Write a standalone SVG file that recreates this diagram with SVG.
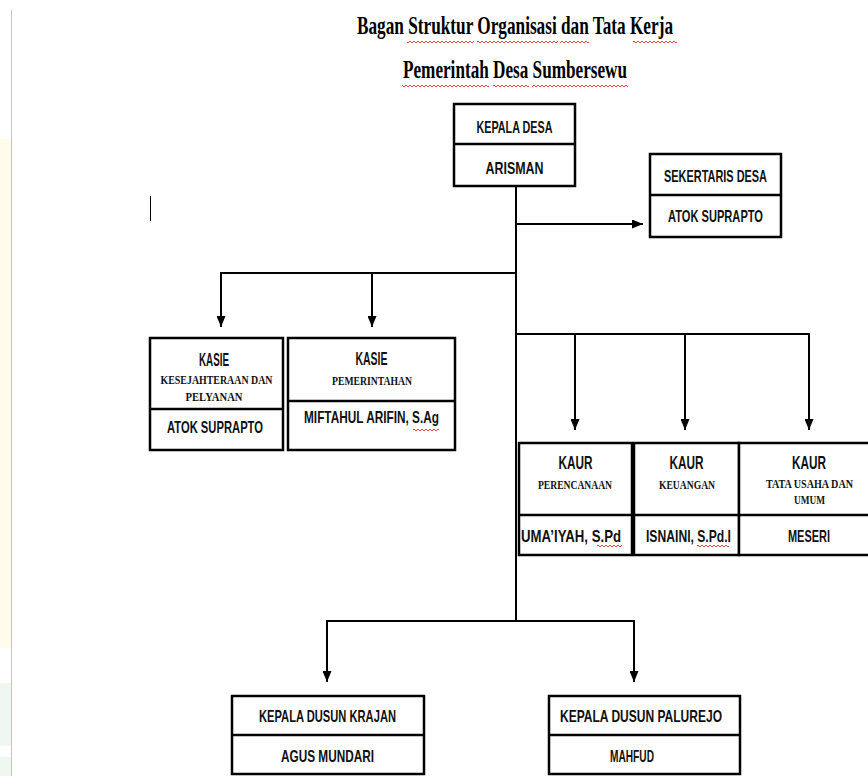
<svg xmlns="http://www.w3.org/2000/svg" width="868" height="776" viewBox="0 0 868 776">
<style>
.box{fill:#fff;stroke:#000;stroke-width:2.5}
.div{stroke:#000;stroke-width:2.5}
.con{fill:none;stroke:#000;stroke-width:2}
.t{font-family:"Liberation Sans Narrow","Liberation Sans",Arial,sans-serif;font-weight:bold;font-size:16.5px;fill:#111;text-anchor:middle}
.h{font-size:17.5px}
.s{font-family:"Liberation Serif","Times New Roman",serif;font-weight:bold;font-size:12px;fill:#111;text-anchor:middle}
.title{font-family:"Liberation Serif","Times New Roman",serif;font-weight:bold;font-size:25px;fill:#000;text-anchor:middle}
</style>
<defs>
<marker id="arr" markerUnits="userSpaceOnUse" markerWidth="11" markerHeight="9" refX="11" refY="4.5" orient="auto">
<path d="M0,0 L11,4.5 L0,9 z" fill="#000"/>
</marker>
<pattern id="sq" patternUnits="userSpaceOnUse" width="4" height="4">
<path d="M0,3 L2,1 L4,3" fill="none" stroke="#e03030" stroke-width="0.9"/>
</pattern>
</defs>
<rect width="868" height="776" fill="#fff"/>
<g id="sidebar">
<rect x="0" y="139" width="11" height="509" fill="#fffcec"/>
<rect x="0" y="683" width="11" height="63" fill="#f0f7f0"/>
<rect x="0" y="757" width="11" height="19" fill="#f0f7f0"/>
<line x1="11.5" y1="10" x2="11.5" y2="776" stroke="#c4c4c4" stroke-width="1"/>
<line x1="150.5" y1="196" x2="150.5" y2="221" stroke="#000" stroke-width="1"/>
</g>
<g id="title">
<text class="title" x="515" y="34" textLength="316" lengthAdjust="spacingAndGlyphs">Bagan Struktur Organisasi dan Tata Kerja</text>
<text class="title" x="515" y="78" textLength="224" lengthAdjust="spacingAndGlyphs">Pemerintah Desa Sumbersewu</text>
<rect x="407" y="39" width="67" height="4" fill="url(#sq)"/>
<rect x="477" y="39" width="81" height="4" fill="url(#sq)"/>
<rect x="560" y="39" width="29" height="4" fill="url(#sq)"/>
<rect x="633" y="39" width="44" height="4" fill="url(#sq)"/>
<rect x="402" y="83" width="87" height="4" fill="url(#sq)"/>
<rect x="493" y="83" width="36" height="4" fill="url(#sq)"/>
<rect x="532" y="83" width="96" height="4" fill="url(#sq)"/>
</g>
<g id="connectors">
<path class="con" d="M516,186 V621"/>
<path class="con" d="M516,224 H643" marker-end="url(#arr)"/>
<path class="con" d="M516,273 H221"/>
<path class="con" d="M221,272 V327" marker-end="url(#arr)"/>
<path class="con" d="M372,273 V327" marker-end="url(#arr)"/>
<path class="con" d="M516,334 H809"/>
<path class="con" d="M575,334 V430" marker-end="url(#arr)"/>
<path class="con" d="M685,334 V430" marker-end="url(#arr)"/>
<path class="con" d="M809,333 V430" marker-end="url(#arr)"/>
<path class="con" d="M327,621 H634"/>
<path class="con" d="M327,620 V682" marker-end="url(#arr)"/>
<path class="con" d="M634,620 V682" marker-end="url(#arr)"/>
</g>
<g id="kepala-desa">
<rect class="box" x="454" y="104" width="121" height="82"/>
<line class="div" x1="454" y1="144" x2="575" y2="144"/>
<text class="t" x="514.5" y="133" textLength="76" lengthAdjust="spacingAndGlyphs">KEPALA DESA</text>
<text class="t" x="514.5" y="174" textLength="58" lengthAdjust="spacingAndGlyphs">ARISMAN</text>
</g>
<g id="sekretaris-desa">
<rect class="box" x="650" y="154" width="131" height="83"/>
<line class="div" x1="650" y1="195" x2="781" y2="195"/>
<text class="t" x="715.5" y="182" textLength="103" lengthAdjust="spacingAndGlyphs">SEKERTARIS DESA</text>
<text class="t" x="715.5" y="222" textLength="95" lengthAdjust="spacingAndGlyphs">ATOK SUPRAPTO</text>
</g>
<g id="kasie-kesejahteraan">
<rect class="box" x="150" y="338" width="133" height="112"/>
<line class="div" x1="150" y1="409" x2="283" y2="409"/>
<text class="t h" x="214" y="366" textLength="30" lengthAdjust="spacingAndGlyphs">KASIE</text>
<text class="s" x="216.5" y="384" textLength="112" lengthAdjust="spacingAndGlyphs">KESEJAHTERAAN DAN</text>
<text class="s" x="214" y="401" textLength="57" lengthAdjust="spacingAndGlyphs">PELYANAN</text>
<text class="t" x="215" y="433" textLength="96" lengthAdjust="spacingAndGlyphs">ATOK SUPRAPTO</text>
</g>
<g id="kasie-pemerintahan">
<rect class="box" x="288" y="338" width="167" height="112"/>
<line class="div" x1="288" y1="401" x2="455" y2="401"/>
<text class="t h" x="371.5" y="365" textLength="32" lengthAdjust="spacingAndGlyphs">KASIE</text>
<text class="s" x="372" y="385" textLength="80" lengthAdjust="spacingAndGlyphs">PEMERINTAHAN</text>
<text class="t" x="371.5" y="423" textLength="135" lengthAdjust="spacingAndGlyphs">MIFTAHUL ARIFIN, S.Ag</text>
<rect x="413" y="428" width="26" height="4" fill="url(#sq)"/>
</g>
<g id="kaur-perencanaan">
<rect class="box" x="519" y="443" width="113" height="112"/>
<line class="div" x1="519" y1="515" x2="632" y2="515"/>
<text class="t h" x="575.5" y="469" textLength="34" lengthAdjust="spacingAndGlyphs">KAUR</text>
<text class="s" x="575" y="489" textLength="74" lengthAdjust="spacingAndGlyphs">PERENCANAAN</text>
<text class="t" x="571" y="542" textLength="100" lengthAdjust="spacingAndGlyphs">UMA’IYAH, S.Pd</text>
<rect x="597" y="544" width="25" height="4" fill="url(#sq)"/>
</g>
<g id="kaur-keuangan">
<rect class="box" x="634" y="443" width="105" height="112"/>
<line class="div" x1="634" y1="515" x2="739" y2="515"/>
<text class="t h" x="686.5" y="469" textLength="34" lengthAdjust="spacingAndGlyphs">KAUR</text>
<text class="s" x="687" y="489" textLength="56" lengthAdjust="spacingAndGlyphs">KEUANGAN</text>
<text class="t" x="688.5" y="542" textLength="85" lengthAdjust="spacingAndGlyphs">ISNAINI, S.Pd.I</text>
<rect x="697" y="544" width="32" height="4" fill="url(#sq)"/>
</g>
<g id="kaur-tata-usaha">
<rect class="box" x="739" y="443" width="140" height="112" stroke-width="3"/>
<line class="div" x1="739" y1="515" x2="879" y2="515" stroke-width="3"/>
<text class="t h" x="809" y="469" textLength="34" lengthAdjust="spacingAndGlyphs">KAUR</text>
<text class="s" x="809.5" y="488" textLength="87" lengthAdjust="spacingAndGlyphs">TATA USAHA DAN</text>
<text class="s" x="809.5" y="504" textLength="31" lengthAdjust="spacingAndGlyphs">UMUM</text>
<text class="t" x="809" y="542" textLength="42" lengthAdjust="spacingAndGlyphs">MESERI</text>
</g>
<g id="kepala-dusun-krajan">
<rect class="box" x="232" y="696" width="192" height="78"/>
<line class="div" x1="232" y1="735" x2="424" y2="735"/>
<text class="t" x="327.5" y="722" textLength="137" lengthAdjust="spacingAndGlyphs">KEPALA DUSUN KRAJAN</text>
<text class="t" x="327.5" y="762" textLength="93" lengthAdjust="spacingAndGlyphs">AGUS MUNDARI</text>
</g>
<g id="kepala-dusun-palurejo">
<rect class="box" x="549" y="696" width="191" height="78"/>
<line class="div" x1="549" y1="735" x2="740" y2="735"/>
<text class="t" x="641" y="722" textLength="162" lengthAdjust="spacingAndGlyphs">KEPALA DUSUN PALUREJO</text>
<text class="t" x="632" y="762" textLength="44" lengthAdjust="spacingAndGlyphs">MAHFUD</text>
</g>
</svg>
